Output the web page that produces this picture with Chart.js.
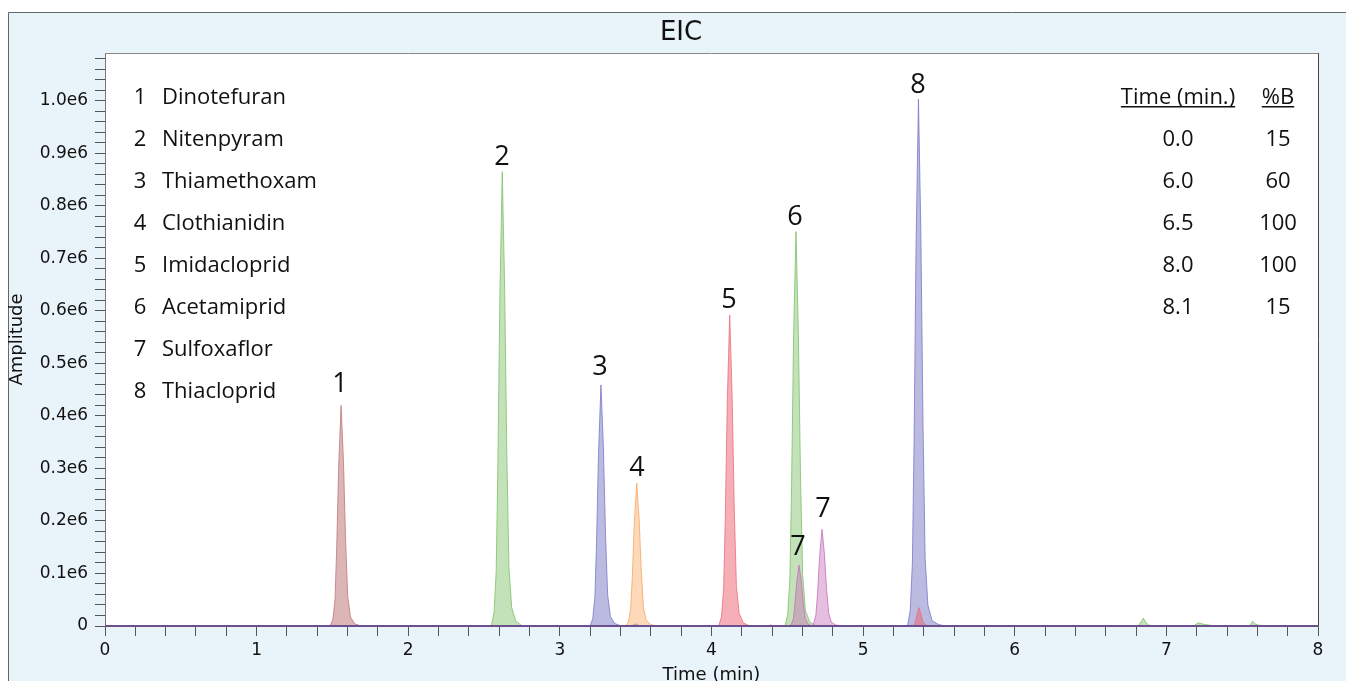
<!DOCTYPE html>
<html>
<head>
<meta charset="utf-8">
<script src="https://cdn.jsdelivr.net/npm/chart.js@4.4.0/dist/chart.umd.min.js"></script>
<style>
  html, body { margin: 0; padding: 0; background: #fff; overflow: hidden; }
  canvas { display: block; }
</style>
</head>
<body>
<canvas id="c" width="1346" height="681"></canvas>
<script>
// ---- data (time in min, amplitude in counts) ----
const compoundNames = ["Dinotefuran", "Nitenpyram", "Thiamethoxam", "Clothianidin",
  "Imidacloprid", "Acetamiprid", "Sulfoxaflor", "Thiacloprid"];

const dinotefuranT = [1.485, 1.503, 1.517, 1.528, 1.541, 1.557, 1.573, 1.587, 1.601, 1.619, 1.647, 1.689];
const dinotefuranA = [0, 13000, 50000, 147000, 302000, 420000, 311000, 160000, 55000, 17000, 4000, 0];

const nitenpyramT = [2.548, 2.566, 2.580, 2.591, 2.604, 2.620, 2.636, 2.650, 2.664, 2.682, 2.710, 2.752];
const nitenpyramA = [0, 26000, 104000, 303000, 623000, 865000, 640000, 329000, 112000, 35000, 9000, 0];

const thiamethoxamT = [3.199, 3.217, 3.231, 3.242, 3.255, 3.271, 3.287, 3.301, 3.315, 3.333, 3.361, 3.403, 3.470, 3.500, 3.530];
const thiamethoxamA = [0, 14000, 55000, 161000, 330000, 459000, 340000, 174000, 60000, 18000, 5000, 0, 0, 4000, 0];

const clothianidinT = [3.435, 3.453, 3.467, 3.478, 3.491, 3.507, 3.523, 3.537, 3.551, 3.569, 3.597, 3.639];
const clothianidinA = [0, 8000, 33000, 95000, 196000, 272000, 201000, 103000, 35000, 11000, 3000, 0];

const imidaclopridT = [4.048, 4.066, 4.080, 4.091, 4.104, 4.120, 4.136, 4.150, 4.164, 4.182, 4.210, 4.252,
  4.370, 4.390, 4.410, 5.330, 5.345, 5.358, 5.368, 5.380, 5.395, 5.420];
const imidaclopridA = [0, 18000, 71000, 207000, 426000, 592000, 438000, 225000, 77000, 24000, 6000, 0,
  0, 2000, 0, 0, 8000, 25000, 35000, 24000, 7000, 0];

const acetamipridT = [4.485, 4.503, 4.517, 4.528, 4.541, 4.557, 4.573, 4.587, 4.601, 4.619, 4.647, 4.689,
  6.815, 6.835, 6.848, 6.862, 6.880, 6.900, 7.180, 7.211, 7.250, 7.300, 7.330, 7.550, 7.569, 7.590, 7.620, 7.650];
const acetamipridA = [0, 23000, 90000, 263000, 541000, 751000, 556000, 285000, 98000, 30000, 8000, 0,
  0, 9000, 15000, 8000, 2500, 0, 0, 6000, 3000, 1000, 0, 0, 9000, 3000, 1000, 0];

const sulfoxaflorT = [4.510, 4.527, 4.540, 4.550, 4.562, 4.577, 4.592, 4.605, 4.618, 4.635, 4.660,
  4.665, 4.675, 4.689, 4.700, 4.713, 4.729, 4.745, 4.759, 4.773, 4.791, 4.819, 4.860];
const sulfoxaflorA = [0, 3500, 14000, 40000, 83000, 116000, 86000, 44000, 15000, 4500, 0,
  0, 5500, 22000, 64000, 132000, 184000, 136000, 70000, 24000, 7000, 2000, 0];

const thiaclopridT = [5.293, 5.311, 5.325, 5.336, 5.349, 5.365, 5.381, 5.395, 5.409, 5.427, 5.455, 5.497, 5.540];
const thiaclopridA = [0, 30000, 120000, 351000, 722000, 1003000, 742000, 381000, 130000, 40000, 10000, 3000, 0];

const peakLabels = ["1", "2", "3", "4", "5", "6", "7", "7", "8"];
const peakLabelT = [1.550, 2.618, 3.265, 3.509, 4.115, 4.551, 4.571, 4.735, 5.362];
const peakLabelA = [465000, 897000, 497000, 305000, 625000, 783000, 154000, 227000, 1034000];

const gradientTime = ["0.0", "6.0", "6.5", "8.0", "8.1"];
const gradientB = ["15", "60", "100", "100", "15"];

const xTickValues = [0, 1, 2, 3, 4, 5, 6, 7, 8];
const yTickLabels = ["0", "0.1e6", "0.2e6", "0.3e6", "0.4e6", "0.5e6", "0.6e6", "0.7e6", "0.8e6", "0.9e6", "1.0e6"];

// ---- helpers ----
const pts = (t, a) => t.map((x, i) => ({ x: x, y: a[i] }));

const trace = (label, t, a, fill, line) => ({
  label: label,
  data: pts(t, a),
  backgroundColor: fill,
  borderColor: line,
  borderWidth: 1,
  fill: "origin",
  pointRadius: 0,
  tension: 0,
});

const SANS = "'DejaVu Sans', Verdana, sans-serif";
const LEG = "'Open Sans', 'Noto Sans', sans-serif";

const frame = {
  id: "frame",
  beforeDraw(chart) {
    const { ctx, chartArea: a, width, height } = chart;
    ctx.save();
    ctx.fillStyle = "#ffffff";
    ctx.fillRect(0, 0, width, height);
    ctx.fillStyle = "#e9f4fa";
    ctx.fillRect(8, 12, width, height);
    ctx.strokeStyle = "#666";
    ctx.lineWidth = 1;
    ctx.beginPath();
    ctx.moveTo(8.5, height);
    ctx.lineTo(8.5, 12.5);
    ctx.lineTo(width, 12.5);
    ctx.stroke();
    ctx.fillStyle = "#ffffff";
    ctx.fillRect(a.left, a.top, a.right - a.left, a.bottom - a.top);
    ctx.restore();
  },
  afterDraw(chart) {
    const { ctx, chartArea: a, scales } = chart;
    const xs = scales.x, ys = scales.y;
    ctx.save();
    // plot frame
    ctx.strokeStyle = "#888";
    ctx.lineWidth = 1;
    ctx.beginPath();
    ctx.moveTo(a.left, a.top + 0.5);
    ctx.lineTo(a.right, a.top + 0.5);
    ctx.stroke();
    ctx.strokeStyle = "#444";
    ctx.beginPath();
    ctx.moveTo(a.right + 0.5, a.top);
    ctx.lineTo(a.right + 0.5, a.bottom);
    ctx.stroke();

    ctx.fillStyle = "#111";
    // title
    ctx.font = "26px " + SANS;
    ctx.textAlign = "center";
    ctx.textBaseline = "alphabetic";
    ctx.fillText("EIC", 681, 40);

    // axis titles
    ctx.font = "18px " + SANS;
    ctx.fillText("Time (min)", (a.left + a.right) / 2, 680);
    ctx.save();
    ctx.translate(22, (a.top + a.bottom) / 2);
    ctx.rotate(-Math.PI / 2);
    ctx.fillText("Amplitude", 0, 0);
    ctx.restore();

    // compound list
    ctx.font = "22px " + LEG;
    compoundNames.forEach((name, i) => {
      const y = 104 + i * 42;
      ctx.textAlign = "center";
      ctx.fillText(String(i + 1), 140, y);
      ctx.textAlign = "left";
      ctx.fillText(name, 162, y);
    });

    // gradient table
    ctx.textAlign = "center";
    const hdr = [["Time (min.)", 1178], ["%B", 1278]];
    hdr.forEach(([txt, cx]) => {
      ctx.fillText(txt, cx, 104);
      const w = ctx.measureText(txt).width;
      ctx.fillRect(cx - w / 2, 106, w, 1.5);
    });
    gradientTime.forEach((t, i) => {
      const y = 146 + i * 42;
      ctx.fillText(t, 1178, y);
      ctx.fillText(gradientB[i], 1278, y);
    });

    // peak numbers
    ctx.font = "27px " + LEG;
    peakLabels.forEach((lab, i) => {
      ctx.fillText(lab, xs.getPixelForValue(peakLabelT[i]), ys.getPixelForValue(peakLabelA[i]) + 10);
    });
    ctx.restore();
  },
};

new Chart(document.getElementById("c"), {
  type: "line",
  data: {
    datasets: [
      { label: "baseline", data: pts([0, 8], [0, 0]), borderColor: "#6d4f8e", borderWidth: 2,
        fill: false, pointRadius: 0, clip: 4 },
      trace("Sulfoxaflor", sulfoxaflorT, sulfoxaflorA, "rgba(200,110,185,0.45)", "rgba(200,110,185,0.8)"),
      trace("Imidacloprid", imidaclopridT, imidaclopridA, "rgba(238,95,110,0.5)", "rgba(235,110,120,0.8)"),
      trace("Thiacloprid", thiaclopridT, thiaclopridA, "rgba(125,125,200,0.52)", "rgba(120,120,200,0.8)"),
      trace("Acetamiprid", acetamipridT, acetamipridA, "rgba(140,200,120,0.52)", "rgba(130,195,110,0.85)"),
      trace("Clothianidin", clothianidinT, clothianidinA, "rgba(250,170,100,0.45)", "rgba(245,165,95,0.8)"),
      trace("Thiamethoxam", thiamethoxamT, thiamethoxamA, "rgba(125,125,200,0.52)", "rgba(120,120,200,0.8)"),
      trace("Nitenpyram", nitenpyramT, nitenpyramA, "rgba(140,200,120,0.52)", "rgba(130,195,110,0.85)"),
      trace("Dinotefuran", dinotefuranT, dinotefuranA, "rgba(185,110,110,0.5)", "rgba(190,120,120,0.8)"),
    ],
  },
  options: {
    responsive: false,
    animation: false,
    devicePixelRatio: 1,
    layout: { padding: { top: 53, right: 28, left: 0, bottom: 0 } },
    plugins: { legend: { display: false }, tooltip: { enabled: false } },
    scales: {
      x: {
        type: "linear",
        min: 0,
        max: 8,
        afterFit: (s) => { s.height = 55; s.paddingLeft = 0; s.paddingRight = 0; },
        afterBuildTicks: (s) => {
          const t = [];
          for (let i = 0; i <= 40; i++) t.push({ value: i * 0.2 });
          s.ticks = t;
        },
        ticks: {
          autoSkip: false,
          maxRotation: 0,
          padding: 4,
          color: "#111",
          font: { family: SANS, size: 17 },
          callback: (v) => {
            const n = Math.round(v);
            return Math.abs(v - n) < 1e-6 && xTickValues.includes(n) ? String(n) : "";
          },
        },
        grid: { drawOnChartArea: false, drawTicks: true, tickLength: 10, tickColor: "#555", color: "#555" },
        border: { display: true, color: "#777" },
      },
      y: {
        min: 0,
        max: 1091000,
        afterFit: (s) => { s.width = 105; s.paddingTop = 0; s.paddingBottom = 0; },
        afterBuildTicks: (s) => {
          const t = [];
          for (let i = 0; i <= 54; i++) t.push({ value: i * 20000 });
          s.ticks = t;
        },
        ticks: {
          autoSkip: false,
          padding: 7,
          color: "#111",
          font: { family: SANS, size: 17 },
          callback: (v) => {
            const k = Math.round(v / 20000);
            return k % 5 === 0 ? (yTickLabels[k / 5] || "") : "";
          },
        },
        grid: { drawOnChartArea: false, drawTicks: true, tickLength: 10, tickColor: "#555", color: "#555" },
        border: { display: true, color: "#777" },
      },
    },
  },
  plugins: [frame],
});
</script>
</body>
</html>
